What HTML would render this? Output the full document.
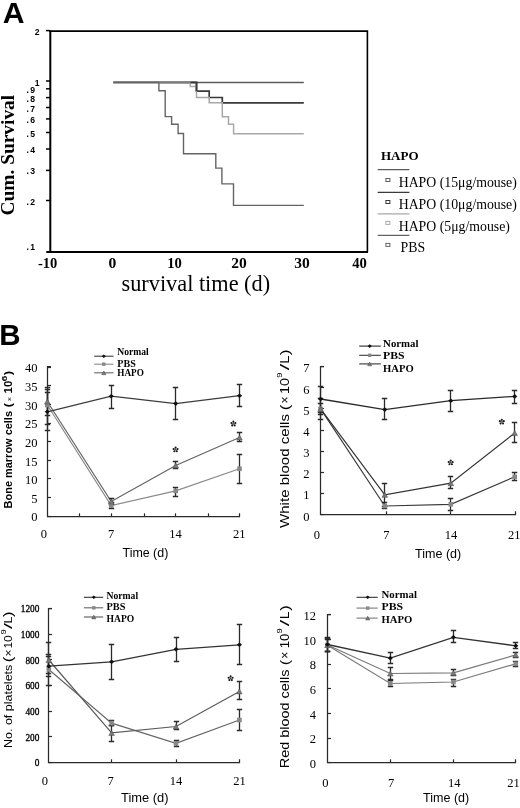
<!DOCTYPE html>
<html><head><meta charset="utf-8"><style>
html,body{margin:0;padding:0;background:#fff;}
svg{display:block;will-change:transform;}
</style></head><body>
<svg width="520" height="808" viewBox="0 0 520 808">
<rect width="520" height="808" fill="#fff"/>
<text x="2.8" y="23.2" font-family='"Liberation Sans", sans-serif' font-weight="bold" font-size="30.2">A</text>
<path d="M50.3 30.4 V251.9" stroke="#000" stroke-width="2" fill="none"/>
<path d="M49 31.1 H367.4 V251.9" stroke="#000" stroke-width="1.6" fill="none"/>
<path d="M47 251.9 H368" stroke="#000" stroke-width="2" fill="none"/>
<path d="M46 30.6 H50" stroke="#000" stroke-width="1.5"/>
<text x="39.6" y="35.1" text-anchor="end" font-family='"Liberation Sans", sans-serif' font-weight="bold" font-size="8.6">2</text>
<path d="M46 81.0 H50" stroke="#000" stroke-width="1.5"/>
<text x="39.6" y="85.5" text-anchor="end" font-family='"Liberation Sans", sans-serif' font-weight="bold" font-size="8.6">1</text>
<path d="M46 88.8 H50" stroke="#000" stroke-width="1.5"/>
<text x="36.4" y="92.8" text-anchor="end" font-family='"Liberation Sans", sans-serif' font-weight="bold" font-size="8.6" letter-spacing="1.3">.9</text>
<path d="M46 97.6 H50" stroke="#000" stroke-width="1.5"/>
<text x="36.4" y="101.6" text-anchor="end" font-family='"Liberation Sans", sans-serif' font-weight="bold" font-size="8.6" letter-spacing="1.3">.8</text>
<path d="M46 107.5 H50" stroke="#000" stroke-width="1.5"/>
<text x="36.4" y="111.5" text-anchor="end" font-family='"Liberation Sans", sans-serif' font-weight="bold" font-size="8.6" letter-spacing="1.3">.7</text>
<path d="M46 118.9 H50" stroke="#000" stroke-width="1.5"/>
<text x="36.4" y="122.9" text-anchor="end" font-family='"Liberation Sans", sans-serif' font-weight="bold" font-size="8.6" letter-spacing="1.3">.6</text>
<path d="M46 132.5 H50" stroke="#000" stroke-width="1.5"/>
<text x="36.4" y="136.5" text-anchor="end" font-family='"Liberation Sans", sans-serif' font-weight="bold" font-size="8.6" letter-spacing="1.3">.5</text>
<path d="M46 149.0 H50" stroke="#000" stroke-width="1.5"/>
<text x="36.4" y="153.0" text-anchor="end" font-family='"Liberation Sans", sans-serif' font-weight="bold" font-size="8.6" letter-spacing="1.3">.4</text>
<path d="M46 170.4 H50" stroke="#000" stroke-width="1.5"/>
<text x="36.4" y="174.4" text-anchor="end" font-family='"Liberation Sans", sans-serif' font-weight="bold" font-size="8.6" letter-spacing="1.3">.3</text>
<path d="M46 200.5 H50" stroke="#000" stroke-width="1.5"/>
<text x="36.4" y="204.5" text-anchor="end" font-family='"Liberation Sans", sans-serif' font-weight="bold" font-size="8.6" letter-spacing="1.3">.2</text>
<path d="M46 252.0 H50" stroke="#000" stroke-width="1.5"/>
<text x="36.4" y="250.0" text-anchor="end" font-family='"Liberation Sans", sans-serif' font-weight="bold" font-size="8.6" letter-spacing="1.3">.1</text>
<text x="38.0" y="268.1" font-family='"Liberation Serif", serif' font-weight="bold" font-size="14" textLength="19.4" lengthAdjust="spacingAndGlyphs">-10</text>
<text x="108.5" y="268.1" font-family='"Liberation Serif", serif' font-weight="bold" font-size="14" textLength="7.8" lengthAdjust="spacingAndGlyphs">0</text>
<text x="167.3" y="268.1" font-family='"Liberation Serif", serif' font-weight="bold" font-size="14" textLength="14.6" lengthAdjust="spacingAndGlyphs">10</text>
<text x="231.3" y="268.1" font-family='"Liberation Serif", serif' font-weight="bold" font-size="14" textLength="15.5" lengthAdjust="spacingAndGlyphs">20</text>
<text x="294.2" y="268.1" font-family='"Liberation Serif", serif' font-weight="bold" font-size="14" textLength="15.5" lengthAdjust="spacingAndGlyphs">30</text>
<text x="352.2" y="268.1" font-family='"Liberation Serif", serif' font-weight="bold" font-size="14" textLength="14.6" lengthAdjust="spacingAndGlyphs">40</text>
<text x="121.5" y="291.3" font-family='"Liberation Serif", serif' font-size="22.3">survival time (d)</text>
<text transform="translate(14.2,215.5) rotate(-90)" font-family='"Liberation Serif", serif' font-weight="bold" font-size="19.4">Cum. Survival</text>
<path d="M113.4 82.5 L303.8 82.5" stroke="#5c5c5c" stroke-width="1.4" fill="none"/>
<path d="M113.4 82.4 L196.5 82.4 L196.5 91.2 L209.2 91.2 L209.2 97.5 L222.3 97.5 L222.3 102.8 L303.8 102.8" stroke="#3a3a3a" stroke-width="1.7" fill="none"/>
<path d="M113.4 82.4 L190.3 82.4 L190.3 86.5 L196.5 86.5 L196.5 97.5 L209.2 97.5 L209.2 102.7 L222.3 102.7 L222.3 116.8 L228.5 116.8 L228.5 124.2 L233.6 124.2 L233.6 133.7 L303.8 133.7" stroke="#a8a8a8" stroke-width="1.5" fill="none"/>
<path d="M159.6 82.5 H189.8" stroke="#7c7c7c" stroke-width="1.5" fill="none"/>
<path d="M190.3 82.5 H196.5 V91.2" stroke="#3a3a3a" stroke-width="1.7" fill="none"/>
<path d="M113.4 82.4 L158.9 82.4 L158.9 90.7 L165.2 90.7 L165.2 116.6 L171.6 116.6 L171.6 124.2 L178.1 124.2 L178.1 133.5 L183.5 133.5 L183.5 153.8 L215.8 153.8 L215.8 168.1 L221.9 168.1 L221.9 183.9 L233.5 183.9 L233.5 205.4 L303.8 205.4" stroke="#646464" stroke-width="1.4" fill="none"/>
<text x="381" y="160.0" font-family='"Liberation Serif", serif' font-weight="bold" font-size="13">HAPO</text>
<path d="M377.7 169.6 H409.4" stroke="#5c5c5c" stroke-width="1.3"/>
<rect x="385.9" y="178.5" width="4" height="3" stroke="#5c5c5c" stroke-width="1" fill="#fff"/>
<text x="398.7" y="187.2" font-family='"Liberation Serif", serif' font-size="13.8">HAPO (15μg/mouse)</text>
<path d="M377.7 192.4 H409.4" stroke="#3a3a3a" stroke-width="1.3"/>
<rect x="385.9" y="200.5" width="4" height="3" stroke="#3a3a3a" stroke-width="1" fill="#fff"/>
<text x="398.7" y="208.8" font-family='"Liberation Serif", serif' font-size="13.8">HAPO (10μg/mouse)</text>
<path d="M377.7 213.9 H409.4" stroke="#a8a8a8" stroke-width="1.3"/>
<rect x="385.9" y="221.4" width="4" height="3" stroke="#a8a8a8" stroke-width="1" fill="#fff"/>
<text x="398.7" y="230.8" font-family='"Liberation Serif", serif' font-size="13.8">HAPO (5μg/mouse)</text>
<path d="M377.7 235.3 H409.4" stroke="#646464" stroke-width="1.3"/>
<rect x="385.9" y="243.4" width="4" height="3" stroke="#646464" stroke-width="1" fill="#fff"/>
<text x="400.6" y="251.9" font-family='"Liberation Serif", serif' font-size="13.8">PBS</text>
<text x="-0.8" y="345.4" font-family='"Liberation Sans", sans-serif' font-weight="bold" font-size="29.5">B</text>
<path d="M51.0 366.5 H47.5 V516.5 H239.5 V513.3" stroke="#2a2a2a" stroke-width="1.25" fill="none"/>
<path d="M47.5 516.50 H51.0" stroke="#2a2a2a" stroke-width="1.2"/>
<path d="M47.5 497.50 H51.0" stroke="#2a2a2a" stroke-width="1.2"/>
<path d="M47.5 478.50 H51.0" stroke="#2a2a2a" stroke-width="1.2"/>
<path d="M47.5 460.50 H51.0" stroke="#2a2a2a" stroke-width="1.2"/>
<path d="M47.5 441.50 H51.0" stroke="#2a2a2a" stroke-width="1.2"/>
<path d="M47.5 423.50 H51.0" stroke="#2a2a2a" stroke-width="1.2"/>
<path d="M47.5 404.50 H51.0" stroke="#2a2a2a" stroke-width="1.2"/>
<path d="M47.5 385.50 H51.0" stroke="#2a2a2a" stroke-width="1.2"/>
<path d="M47.5 367.50 H51.0" stroke="#2a2a2a" stroke-width="1.2"/>
<path d="M79.50 516.5 V513.3" stroke="#2a2a2a" stroke-width="1.2"/>
<path d="M111.50 516.5 V513.3" stroke="#2a2a2a" stroke-width="1.2"/>
<path d="M144.50 516.5 V513.3" stroke="#2a2a2a" stroke-width="1.2"/>
<path d="M175.50 516.5 V513.3" stroke="#2a2a2a" stroke-width="1.2"/>
<path d="M208.50 516.5 V513.3" stroke="#2a2a2a" stroke-width="1.2"/>
<text x="37.4" y="521.43" text-anchor="end" font-family='"Liberation Serif", serif' font-size="12.5">0</text>
<text x="37.4" y="502.79" text-anchor="end" font-family='"Liberation Serif", serif' font-size="12.5">5</text>
<text x="37.4" y="484.15" text-anchor="end" font-family='"Liberation Serif", serif' font-size="12.5">10</text>
<text x="37.4" y="465.51" text-anchor="end" font-family='"Liberation Serif", serif' font-size="12.5">15</text>
<text x="37.4" y="446.88" text-anchor="end" font-family='"Liberation Serif", serif' font-size="12.5">20</text>
<text x="37.4" y="428.24" text-anchor="end" font-family='"Liberation Serif", serif' font-size="12.5">25</text>
<text x="37.4" y="409.60" text-anchor="end" font-family='"Liberation Serif", serif' font-size="12.5">30</text>
<text x="37.4" y="390.96" text-anchor="end" font-family='"Liberation Serif", serif' font-size="12.5">35</text>
<text x="37.4" y="372.33" text-anchor="end" font-family='"Liberation Serif", serif' font-size="12.5">40</text>
<text x="43.8" y="537.93" text-anchor="middle" font-family='"Liberation Serif", serif' font-size="12.5">0</text>
<text x="111.0" y="537.93" text-anchor="middle" font-family='"Liberation Serif", serif' font-size="12.5">7</text>
<text x="175.4" y="537.93" text-anchor="middle" font-family='"Liberation Serif", serif' font-size="12.5">14</text>
<text x="239.2" y="537.93" text-anchor="middle" font-family='"Liberation Serif", serif' font-size="12.5">21</text>
<text x="122.5" y="557.4" font-family='"Liberation Sans", sans-serif' font-size="13.5" textLength="45.8" lengthAdjust="spacingAndGlyphs">Time (d)</text>
<path d="M47.30 405.00 L111.20 505.60 L175.70 490.90 L239.50 468.70" stroke="#8a8a8a" stroke-width="1.2" fill="none"/>
<path d="M47.30 401.50 L111.20 501.50 L175.70 465.50 L239.50 437.50" stroke="#646464" stroke-width="1.2" fill="none"/>
<path d="M47.30 411.80 L111.20 396.20 L175.70 403.60 L239.50 395.70" stroke="#3c3c3c" stroke-width="1.3" fill="none"/>
<path d="M47.50 389.50 V424.50 M44.80 389.50 H50.20 M44.80 424.50 H50.20" stroke="#2a2a2a" stroke-width="1.3" fill="none"/>
<path d="M111.50 502.50 V508.50 M108.80 502.50 H114.20 M108.80 508.50 H114.20" stroke="#2a2a2a" stroke-width="1.3" fill="none"/>
<path d="M175.50 487.50 V496.50 M172.80 487.50 H178.20 M172.80 496.50 H178.20" stroke="#2a2a2a" stroke-width="1.3" fill="none"/>
<path d="M239.50 454.50 V483.50 M236.80 454.50 H242.20 M236.80 483.50 H242.20" stroke="#2a2a2a" stroke-width="1.3" fill="none"/>
<path d="M47.50 387.50 V415.50 M44.80 387.50 H50.20 M44.80 415.50 H50.20" stroke="#2a2a2a" stroke-width="1.3" fill="none"/>
<path d="M111.50 498.50 V504.50 M108.80 498.50 H114.20 M108.80 504.50 H114.20" stroke="#2a2a2a" stroke-width="1.3" fill="none"/>
<path d="M175.50 461.50 V468.50 M172.80 461.50 H178.20 M172.80 468.50 H178.20" stroke="#2a2a2a" stroke-width="1.3" fill="none"/>
<path d="M239.50 432.50 V441.50 M236.80 432.50 H242.20 M236.80 441.50 H242.20" stroke="#2a2a2a" stroke-width="1.3" fill="none"/>
<path d="M47.50 392.50 V430.50 M44.80 392.50 H50.20 M44.80 430.50 H50.20" stroke="#2a2a2a" stroke-width="1.3" fill="none"/>
<path d="M111.50 385.50 V408.50 M108.80 385.50 H114.20 M108.80 408.50 H114.20" stroke="#2a2a2a" stroke-width="1.3" fill="none"/>
<path d="M175.50 387.50 V419.50 M172.80 387.50 H178.20 M172.80 419.50 H178.20" stroke="#2a2a2a" stroke-width="1.3" fill="none"/>
<path d="M239.50 384.50 V406.50 M236.80 384.50 H242.20 M236.80 406.50 H242.20" stroke="#2a2a2a" stroke-width="1.3" fill="none"/>
<rect x="45.00" y="402.70" width="4.6" height="4.6" fill="#888"/>
<rect x="108.90" y="503.30" width="4.6" height="4.6" fill="#888"/>
<rect x="173.40" y="488.60" width="4.6" height="4.6" fill="#888"/>
<rect x="237.20" y="466.40" width="4.6" height="4.6" fill="#888"/>
<path d="M47.30 398.98 L50.10 404.02 L44.50 404.02 Z" fill="#7a7a7a" stroke="#4a4a4a" stroke-width="0.5"/>
<path d="M111.20 498.98 L114.00 504.02 L108.40 504.02 Z" fill="#7a7a7a" stroke="#4a4a4a" stroke-width="0.5"/>
<path d="M175.70 462.98 L178.50 468.02 L172.90 468.02 Z" fill="#7a7a7a" stroke="#4a4a4a" stroke-width="0.5"/>
<path d="M239.50 434.98 L242.30 440.02 L236.70 440.02 Z" fill="#7a7a7a" stroke="#4a4a4a" stroke-width="0.5"/>
<path d="M44.70 411.80 L47.30 409.50 L49.90 411.80 L47.30 414.10 Z" fill="#111"/>
<path d="M108.60 396.20 L111.20 393.90 L113.80 396.20 L111.20 398.50 Z" fill="#111"/>
<path d="M173.10 403.60 L175.70 401.30 L178.30 403.60 L175.70 405.90 Z" fill="#111"/>
<path d="M236.90 395.70 L239.50 393.40 L242.10 395.70 L239.50 398.00 Z" fill="#111"/>
<circle cx="175.60" cy="447.50" r="1.05" fill="#1a1a1a"/><path d="M175.60 449.60 L175.60 447.50" stroke="#1a1a1a" stroke-width="0.9" opacity="0.6"/><circle cx="177.60" cy="448.95" r="1.05" fill="#1a1a1a"/><path d="M175.60 449.60 L177.60 448.95" stroke="#1a1a1a" stroke-width="0.9" opacity="0.6"/><circle cx="176.83" cy="451.30" r="1.05" fill="#1a1a1a"/><path d="M175.60 449.60 L176.83 451.30" stroke="#1a1a1a" stroke-width="0.9" opacity="0.6"/><circle cx="174.37" cy="451.30" r="1.05" fill="#1a1a1a"/><path d="M175.60 449.60 L174.37 451.30" stroke="#1a1a1a" stroke-width="0.9" opacity="0.6"/><circle cx="173.60" cy="448.95" r="1.05" fill="#1a1a1a"/><path d="M175.60 449.60 L173.60 448.95" stroke="#1a1a1a" stroke-width="0.9" opacity="0.6"/>
<circle cx="233.40" cy="421.60" r="1.05" fill="#1a1a1a"/><path d="M233.40 423.70 L233.40 421.60" stroke="#1a1a1a" stroke-width="0.9" opacity="0.6"/><circle cx="235.40" cy="423.05" r="1.05" fill="#1a1a1a"/><path d="M233.40 423.70 L235.40 423.05" stroke="#1a1a1a" stroke-width="0.9" opacity="0.6"/><circle cx="234.63" cy="425.40" r="1.05" fill="#1a1a1a"/><path d="M233.40 423.70 L234.63 425.40" stroke="#1a1a1a" stroke-width="0.9" opacity="0.6"/><circle cx="232.17" cy="425.40" r="1.05" fill="#1a1a1a"/><path d="M233.40 423.70 L232.17 425.40" stroke="#1a1a1a" stroke-width="0.9" opacity="0.6"/><circle cx="231.40" cy="423.05" r="1.05" fill="#1a1a1a"/><path d="M233.40 423.70 L231.40 423.05" stroke="#1a1a1a" stroke-width="0.9" opacity="0.6"/>
<path d="M94.2 356.2 H113.5" stroke="#3c3c3c" stroke-width="1.1"/>
<path d="M101.70 356.20 L103.80 354.40 L105.90 356.20 L103.80 358.00 Z" fill="#111"/>
<text x="117.3" y="355.4" font-family='"Liberation Serif", serif' font-weight="bold" font-size="10" textLength="31.5" lengthAdjust="spacingAndGlyphs">Normal</text>
<path d="M94.2 364.2 H113.5" stroke="#8a8a8a" stroke-width="1.1"/>
<rect x="102.10" y="362.50" width="3.4" height="3.4" fill="#888"/>
<text x="117.3" y="366.9" font-family='"Liberation Serif", serif' font-weight="bold" font-size="10" textLength="18.5" lengthAdjust="spacingAndGlyphs">PBS</text>
<path d="M94.2 372.8 H113.5" stroke="#646464" stroke-width="1.1"/>
<path d="M103.80 370.91 L105.90 374.69 L101.70 374.69 Z" fill="#7a7a7a" stroke="#4a4a4a" stroke-width="0.5"/>
<text x="117.3" y="376.2" font-family='"Liberation Serif", serif' font-weight="bold" font-size="10" textLength="26.6" lengthAdjust="spacingAndGlyphs">HAPO</text>
<g transform="translate(11.9,507.8) rotate(-90)" font-family='"Liberation Sans", sans-serif' font-weight="bold"><text x="-0.6" y="0" font-size="10.8" textLength="97.4" lengthAdjust="spacingAndGlyphs">Bone marrow cells</text><text x="100.2" y="0" font-size="10.8" textLength="4.6" lengthAdjust="spacingAndGlyphs">(</text><text x="106.6" y="0" font-size="7.5" font-weight="normal">×</text><text x="114.4" y="0" font-size="10.8" textLength="12.6" lengthAdjust="spacingAndGlyphs">10</text><text x="126.6" y="-5.4" font-size="7.3" textLength="5.6" lengthAdjust="spacingAndGlyphs">6</text><text x="132.6" y="0" font-size="10.8" textLength="4.4" lengthAdjust="spacingAndGlyphs">)</text></g>
<path d="M324.0 366.5 H320.5 V514.5 H515.5 V511.3" stroke="#2a2a2a" stroke-width="1.25" fill="none"/>
<path d="M320.5 514.50 H324.0" stroke="#2a2a2a" stroke-width="1.2"/>
<path d="M320.5 493.50 H324.0" stroke="#2a2a2a" stroke-width="1.2"/>
<path d="M320.5 472.50 H324.0" stroke="#2a2a2a" stroke-width="1.2"/>
<path d="M320.5 451.50 H324.0" stroke="#2a2a2a" stroke-width="1.2"/>
<path d="M320.5 430.50 H324.0" stroke="#2a2a2a" stroke-width="1.2"/>
<path d="M320.5 408.50 H324.0" stroke="#2a2a2a" stroke-width="1.2"/>
<path d="M320.5 387.50 H324.0" stroke="#2a2a2a" stroke-width="1.2"/>
<path d="M320.5 366.50 H324.0" stroke="#2a2a2a" stroke-width="1.2"/>
<path d="M386.50 514.5 V511.3" stroke="#2a2a2a" stroke-width="1.2"/>
<path d="M450.50 514.5 V511.3" stroke="#2a2a2a" stroke-width="1.2"/>
<text x="309.6" y="520.53" text-anchor="end" font-family='"Liberation Serif", serif' font-size="12.5">0</text>
<text x="309.6" y="499.36" text-anchor="end" font-family='"Liberation Serif", serif' font-size="12.5">1</text>
<text x="309.6" y="478.19" text-anchor="end" font-family='"Liberation Serif", serif' font-size="12.5">2</text>
<text x="309.6" y="457.02" text-anchor="end" font-family='"Liberation Serif", serif' font-size="12.5">3</text>
<text x="309.6" y="435.85" text-anchor="end" font-family='"Liberation Serif", serif' font-size="12.5">4</text>
<text x="309.6" y="414.68" text-anchor="end" font-family='"Liberation Serif", serif' font-size="12.5">5</text>
<text x="309.6" y="393.51" text-anchor="end" font-family='"Liberation Serif", serif' font-size="12.5">6</text>
<text x="309.6" y="372.34" text-anchor="end" font-family='"Liberation Serif", serif' font-size="12.5">7</text>
<text x="316.9" y="539.23" text-anchor="middle" font-family='"Liberation Serif", serif' font-size="12.5">0</text>
<text x="386.3" y="539.23" text-anchor="middle" font-family='"Liberation Serif", serif' font-size="12.5">7</text>
<text x="451.1" y="539.23" text-anchor="middle" font-family='"Liberation Serif", serif' font-size="12.5">14</text>
<text x="514.2" y="539.23" text-anchor="middle" font-family='"Liberation Serif", serif' font-size="12.5">21</text>
<text x="415.0" y="557.8" font-family='"Liberation Sans", sans-serif' font-size="13.5" textLength="46.2" lengthAdjust="spacingAndGlyphs">Time (d)</text>
<path d="M320.60 408.90 L384.80 506.00 L450.80 504.30 L514.70 476.80" stroke="#3a3a3a" stroke-width="1.2" fill="none"/>
<path d="M320.60 408.90 L384.80 494.80 L450.80 483.20 L514.70 433.00" stroke="#333333" stroke-width="1.2" fill="none"/>
<path d="M320.60 399.00 L384.80 409.60 L450.80 400.70 L514.70 396.40" stroke="#2a2a2a" stroke-width="1.3" fill="none"/>
<path d="M320.50 403.50 V414.50 M317.80 403.50 H323.20 M317.80 414.50 H323.20" stroke="#2a2a2a" stroke-width="1.3" fill="none"/>
<path d="M384.50 502.50 V508.50 M381.80 502.50 H387.20 M381.80 508.50 H387.20" stroke="#2a2a2a" stroke-width="1.3" fill="none"/>
<path d="M450.50 498.50 V510.50 M447.80 498.50 H453.20 M447.80 510.50 H453.20" stroke="#2a2a2a" stroke-width="1.3" fill="none"/>
<path d="M514.50 472.50 V480.50 M511.80 472.50 H517.20 M511.80 480.50 H517.20" stroke="#2a2a2a" stroke-width="1.3" fill="none"/>
<path d="M320.50 398.50 V419.50 M317.80 398.50 H323.20 M317.80 419.50 H323.20" stroke="#2a2a2a" stroke-width="1.3" fill="none"/>
<path d="M384.50 483.50 V506.50 M381.80 483.50 H387.20 M381.80 506.50 H387.20" stroke="#2a2a2a" stroke-width="1.3" fill="none"/>
<path d="M450.50 476.50 V488.50 M447.80 476.50 H453.20 M447.80 488.50 H453.20" stroke="#2a2a2a" stroke-width="1.3" fill="none"/>
<path d="M514.50 422.50 V442.50 M511.80 422.50 H517.20 M511.80 442.50 H517.20" stroke="#2a2a2a" stroke-width="1.3" fill="none"/>
<path d="M320.50 386.50 V412.50 M317.80 386.50 H323.20 M317.80 412.50 H323.20" stroke="#2a2a2a" stroke-width="1.3" fill="none"/>
<path d="M384.50 398.50 V419.50 M381.80 398.50 H387.20 M381.80 419.50 H387.20" stroke="#2a2a2a" stroke-width="1.3" fill="none"/>
<path d="M450.50 390.50 V411.50 M447.80 390.50 H453.20 M447.80 411.50 H453.20" stroke="#2a2a2a" stroke-width="1.3" fill="none"/>
<path d="M514.50 390.50 V403.50 M511.80 390.50 H517.20 M511.80 403.50 H517.20" stroke="#2a2a2a" stroke-width="1.3" fill="none"/>
<rect x="318.30" y="406.60" width="4.6" height="4.6" fill="#888"/>
<rect x="382.50" y="503.70" width="4.6" height="4.6" fill="#888"/>
<rect x="448.50" y="502.00" width="4.6" height="4.6" fill="#888"/>
<rect x="512.40" y="474.50" width="4.6" height="4.6" fill="#888"/>
<path d="M320.60 406.38 L323.40 411.42 L317.80 411.42 Z" fill="#7a7a7a" stroke="#4a4a4a" stroke-width="0.5"/>
<path d="M384.80 492.28 L387.60 497.32 L382.00 497.32 Z" fill="#7a7a7a" stroke="#4a4a4a" stroke-width="0.5"/>
<path d="M450.80 480.68 L453.60 485.72 L448.00 485.72 Z" fill="#7a7a7a" stroke="#4a4a4a" stroke-width="0.5"/>
<path d="M514.70 430.48 L517.50 435.52 L511.90 435.52 Z" fill="#7a7a7a" stroke="#4a4a4a" stroke-width="0.5"/>
<path d="M318.00 399.00 L320.60 396.70 L323.20 399.00 L320.60 401.30 Z" fill="#111"/>
<path d="M382.20 409.60 L384.80 407.30 L387.40 409.60 L384.80 411.90 Z" fill="#111"/>
<path d="M448.20 400.70 L450.80 398.40 L453.40 400.70 L450.80 403.00 Z" fill="#111"/>
<path d="M512.10 396.40 L514.70 394.10 L517.30 396.40 L514.70 398.70 Z" fill="#111"/>
<circle cx="450.70" cy="460.50" r="1.05" fill="#1a1a1a"/><path d="M450.70 462.60 L450.70 460.50" stroke="#1a1a1a" stroke-width="0.9" opacity="0.6"/><circle cx="452.70" cy="461.95" r="1.05" fill="#1a1a1a"/><path d="M450.70 462.60 L452.70 461.95" stroke="#1a1a1a" stroke-width="0.9" opacity="0.6"/><circle cx="451.93" cy="464.30" r="1.05" fill="#1a1a1a"/><path d="M450.70 462.60 L451.93 464.30" stroke="#1a1a1a" stroke-width="0.9" opacity="0.6"/><circle cx="449.47" cy="464.30" r="1.05" fill="#1a1a1a"/><path d="M450.70 462.60 L449.47 464.30" stroke="#1a1a1a" stroke-width="0.9" opacity="0.6"/><circle cx="448.70" cy="461.95" r="1.05" fill="#1a1a1a"/><path d="M450.70 462.60 L448.70 461.95" stroke="#1a1a1a" stroke-width="0.9" opacity="0.6"/>
<circle cx="501.80" cy="419.70" r="1.05" fill="#1a1a1a"/><path d="M501.80 421.80 L501.80 419.70" stroke="#1a1a1a" stroke-width="0.9" opacity="0.6"/><circle cx="503.80" cy="421.15" r="1.05" fill="#1a1a1a"/><path d="M501.80 421.80 L503.80 421.15" stroke="#1a1a1a" stroke-width="0.9" opacity="0.6"/><circle cx="503.03" cy="423.50" r="1.05" fill="#1a1a1a"/><path d="M501.80 421.80 L503.03 423.50" stroke="#1a1a1a" stroke-width="0.9" opacity="0.6"/><circle cx="500.57" cy="423.50" r="1.05" fill="#1a1a1a"/><path d="M501.80 421.80 L500.57 423.50" stroke="#1a1a1a" stroke-width="0.9" opacity="0.6"/><circle cx="499.80" cy="421.15" r="1.05" fill="#1a1a1a"/><path d="M501.80 421.80 L499.80 421.15" stroke="#1a1a1a" stroke-width="0.9" opacity="0.6"/>
<path d="M359.2 346.1 H380.8" stroke="#2a2a2a" stroke-width="1.1"/>
<path d="M367.60 346.10 L369.70 344.30 L371.80 346.10 L369.70 347.90 Z" fill="#111"/>
<text x="383.1" y="346.5" font-family='"Liberation Serif", serif' font-weight="bold" font-size="11" textLength="35.4" lengthAdjust="spacingAndGlyphs">Normal</text>
<path d="M359.2 355.3 H380.8" stroke="#3a3a3a" stroke-width="1.1"/>
<rect x="368.00" y="353.60" width="3.4" height="3.4" fill="#888"/>
<text x="383.1" y="359.2" font-family='"Liberation Serif", serif' font-weight="bold" font-size="11" textLength="21.5" lengthAdjust="spacingAndGlyphs">PBS</text>
<path d="M359.2 363.9 H380.8" stroke="#333333" stroke-width="1.1"/>
<path d="M369.70 362.01 L371.80 365.79 L367.60 365.79 Z" fill="#7a7a7a" stroke="#4a4a4a" stroke-width="0.5"/>
<text x="383.1" y="372.4" font-family='"Liberation Serif", serif' font-weight="bold" font-size="11" textLength="30.7" lengthAdjust="spacingAndGlyphs">HAPO</text>
<g transform="translate(288.7,527.2) rotate(-90)" font-family='"Liberation Sans", sans-serif' font-weight="normal"><text x="-0.8" y="0" font-size="12.5" textLength="114.0" lengthAdjust="spacingAndGlyphs">White blood cells</text><text x="117.0" y="0" font-size="13.5" textLength="5.6" lengthAdjust="spacingAndGlyphs">(</text><text x="123.6" y="0" font-size="12.5" textLength="7.0" lengthAdjust="spacingAndGlyphs">×</text><text x="133.3" y="0" font-size="12.5" textLength="16.0" lengthAdjust="spacingAndGlyphs">10</text><text x="149.5" y="-6.5" font-size="8" textLength="5.2" lengthAdjust="spacingAndGlyphs">9</text><text x="157.0" y="0" font-size="12.5" textLength="6.6" lengthAdjust="spacingAndGlyphs">/</text><text x="163.4" y="0" font-size="12.5" textLength="8.2" lengthAdjust="spacingAndGlyphs">L</text><text x="171.9" y="0" font-size="13.5" textLength="5.8" lengthAdjust="spacingAndGlyphs">)</text></g>
<path d="M52.0 608.5 H48.5 V762.5 H239.5 V759.3" stroke="#2a2a2a" stroke-width="1.25" fill="none"/>
<path d="M48.5 762.50 H52.0" stroke="#2a2a2a" stroke-width="1.2"/>
<path d="M48.5 736.50 H52.0" stroke="#2a2a2a" stroke-width="1.2"/>
<path d="M48.5 711.50 H52.0" stroke="#2a2a2a" stroke-width="1.2"/>
<path d="M48.5 685.50 H52.0" stroke="#2a2a2a" stroke-width="1.2"/>
<path d="M48.5 659.50 H52.0" stroke="#2a2a2a" stroke-width="1.2"/>
<path d="M48.5 634.50 H52.0" stroke="#2a2a2a" stroke-width="1.2"/>
<path d="M48.5 608.50 H52.0" stroke="#2a2a2a" stroke-width="1.2"/>
<path d="M111.50 762.5 V759.3" stroke="#2a2a2a" stroke-width="1.2"/>
<path d="M176.50 762.5 V759.3" stroke="#2a2a2a" stroke-width="1.2"/>
<text x="39.4" y="766.24" text-anchor="end" font-family='"Liberation Serif", serif' font-size="9.3" stroke="#000" stroke-width="0.3">0</text>
<text x="39.4" y="740.59" text-anchor="end" font-family='"Liberation Serif", serif' font-size="9.3" stroke="#000" stroke-width="0.3">200</text>
<text x="39.4" y="714.94" text-anchor="end" font-family='"Liberation Serif", serif' font-size="9.3" stroke="#000" stroke-width="0.3">400</text>
<text x="39.4" y="689.29" text-anchor="end" font-family='"Liberation Serif", serif' font-size="9.3" stroke="#000" stroke-width="0.3">600</text>
<text x="39.4" y="663.64" text-anchor="end" font-family='"Liberation Serif", serif' font-size="9.3" stroke="#000" stroke-width="0.3">800</text>
<text x="39.4" y="637.99" text-anchor="end" font-family='"Liberation Serif", serif' font-size="9.3" stroke="#000" stroke-width="0.3">1000</text>
<text x="39.4" y="612.34" text-anchor="end" font-family='"Liberation Serif", serif' font-size="9.3" stroke="#000" stroke-width="0.3">1200</text>
<text x="44.8" y="784.73" text-anchor="middle" font-family='"Liberation Serif", serif' font-size="12.5">0</text>
<text x="110.6" y="784.73" text-anchor="middle" font-family='"Liberation Serif", serif' font-size="12.5">7</text>
<text x="176.0" y="784.73" text-anchor="middle" font-family='"Liberation Serif", serif' font-size="12.5">14</text>
<text x="239.4" y="784.73" text-anchor="middle" font-family='"Liberation Serif", serif' font-size="12.5">21</text>
<text x="121.0" y="802.0" font-family='"Liberation Sans", sans-serif' font-size="13.5" textLength="47.5" lengthAdjust="spacingAndGlyphs">Time (d)</text>
<path d="M48.80 669.50 L111.60 723.10 L176.00 743.40 L239.40 720.00" stroke="#666666" stroke-width="1.2" fill="none"/>
<path d="M48.80 660.00 L111.60 732.90 L176.00 726.50 L239.40 691.40" stroke="#5a5a5a" stroke-width="1.2" fill="none"/>
<path d="M48.80 666.20 L111.60 661.80 L176.00 649.30 L239.40 644.80" stroke="#333333" stroke-width="1.3" fill="none"/>
<path d="M48.50 654.50 V676.50 M45.80 654.50 H51.20 M45.80 676.50 H51.20" stroke="#2a2a2a" stroke-width="1.3" fill="none"/>
<path d="M111.50 720.50 V725.50 M108.80 720.50 H114.20 M108.80 725.50 H114.20" stroke="#2a2a2a" stroke-width="1.3" fill="none"/>
<path d="M176.50 740.50 V746.50 M173.80 740.50 H179.20 M173.80 746.50 H179.20" stroke="#2a2a2a" stroke-width="1.3" fill="none"/>
<path d="M239.50 709.50 V730.50 M236.80 709.50 H242.20 M236.80 730.50 H242.20" stroke="#2a2a2a" stroke-width="1.3" fill="none"/>
<path d="M48.50 656.50 V673.50 M45.80 656.50 H51.20 M45.80 673.50 H51.20" stroke="#2a2a2a" stroke-width="1.3" fill="none"/>
<path d="M111.50 725.50 V741.50 M108.80 725.50 H114.20 M108.80 741.50 H114.20" stroke="#2a2a2a" stroke-width="1.3" fill="none"/>
<path d="M176.50 721.50 V729.50 M173.80 721.50 H179.20 M173.80 729.50 H179.20" stroke="#2a2a2a" stroke-width="1.3" fill="none"/>
<path d="M239.50 681.50 V699.50 M236.80 681.50 H242.20 M236.80 699.50 H242.20" stroke="#2a2a2a" stroke-width="1.3" fill="none"/>
<path d="M48.50 642.50 V685.50 M45.80 642.50 H51.20 M45.80 685.50 H51.20" stroke="#2a2a2a" stroke-width="1.3" fill="none"/>
<path d="M111.50 644.50 V679.50 M108.80 644.50 H114.20 M108.80 679.50 H114.20" stroke="#2a2a2a" stroke-width="1.3" fill="none"/>
<path d="M176.50 637.50 V661.50 M173.80 637.50 H179.20 M173.80 661.50 H179.20" stroke="#2a2a2a" stroke-width="1.3" fill="none"/>
<path d="M239.50 624.50 V664.50 M236.80 624.50 H242.20 M236.80 664.50 H242.20" stroke="#2a2a2a" stroke-width="1.3" fill="none"/>
<rect x="46.50" y="667.20" width="4.6" height="4.6" fill="#888"/>
<rect x="109.30" y="720.80" width="4.6" height="4.6" fill="#888"/>
<rect x="173.70" y="741.10" width="4.6" height="4.6" fill="#888"/>
<rect x="237.10" y="717.70" width="4.6" height="4.6" fill="#888"/>
<path d="M48.80 657.48 L51.60 662.52 L46.00 662.52 Z" fill="#7a7a7a" stroke="#4a4a4a" stroke-width="0.5"/>
<path d="M111.60 730.38 L114.40 735.42 L108.80 735.42 Z" fill="#7a7a7a" stroke="#4a4a4a" stroke-width="0.5"/>
<path d="M176.00 723.98 L178.80 729.02 L173.20 729.02 Z" fill="#7a7a7a" stroke="#4a4a4a" stroke-width="0.5"/>
<path d="M239.40 688.88 L242.20 693.92 L236.60 693.92 Z" fill="#7a7a7a" stroke="#4a4a4a" stroke-width="0.5"/>
<path d="M46.20 666.20 L48.80 663.90 L51.40 666.20 L48.80 668.50 Z" fill="#111"/>
<path d="M109.00 661.80 L111.60 659.50 L114.20 661.80 L111.60 664.10 Z" fill="#111"/>
<path d="M173.40 649.30 L176.00 647.00 L178.60 649.30 L176.00 651.60 Z" fill="#111"/>
<path d="M236.80 644.80 L239.40 642.50 L242.00 644.80 L239.40 647.10 Z" fill="#111"/>
<circle cx="230.60" cy="676.30" r="1.05" fill="#1a1a1a"/><path d="M230.60 678.40 L230.60 676.30" stroke="#1a1a1a" stroke-width="0.9" opacity="0.6"/><circle cx="232.60" cy="677.75" r="1.05" fill="#1a1a1a"/><path d="M230.60 678.40 L232.60 677.75" stroke="#1a1a1a" stroke-width="0.9" opacity="0.6"/><circle cx="231.83" cy="680.10" r="1.05" fill="#1a1a1a"/><path d="M230.60 678.40 L231.83 680.10" stroke="#1a1a1a" stroke-width="0.9" opacity="0.6"/><circle cx="229.37" cy="680.10" r="1.05" fill="#1a1a1a"/><path d="M230.60 678.40 L229.37 680.10" stroke="#1a1a1a" stroke-width="0.9" opacity="0.6"/><circle cx="228.60" cy="677.75" r="1.05" fill="#1a1a1a"/><path d="M230.60 678.40 L228.60 677.75" stroke="#1a1a1a" stroke-width="0.9" opacity="0.6"/>
<path d="M83.9 597.3 H103.2" stroke="#333333" stroke-width="1.1"/>
<path d="M91.70 597.30 L93.80 595.50 L95.90 597.30 L93.80 599.10 Z" fill="#111"/>
<text x="106.5" y="598.5" font-family='"Liberation Serif", serif' font-weight="bold" font-size="10" textLength="31.6" lengthAdjust="spacingAndGlyphs">Normal</text>
<path d="M83.9 607.8 H103.2" stroke="#666666" stroke-width="1.1"/>
<rect x="92.10" y="606.10" width="3.4" height="3.4" fill="#888"/>
<text x="106.5" y="609.9" font-family='"Liberation Serif", serif' font-weight="bold" font-size="10" textLength="19.0" lengthAdjust="spacingAndGlyphs">PBS</text>
<path d="M83.9 617.0 H103.2" stroke="#5a5a5a" stroke-width="1.1"/>
<path d="M93.80 615.11 L95.90 618.89 L91.70 618.89 Z" fill="#7a7a7a" stroke="#4a4a4a" stroke-width="0.5"/>
<text x="106.5" y="621.6" font-family='"Liberation Serif", serif' font-weight="bold" font-size="10" textLength="27.7" lengthAdjust="spacingAndGlyphs">HAPO</text>
<g transform="translate(11.8,747.2) rotate(-90)" font-family='"Liberation Sans", sans-serif' font-weight="normal"><text x="-0.8" y="0" font-size="11.3" textLength="83.3" lengthAdjust="spacingAndGlyphs">No. of platelets</text><text x="84.9" y="0" font-size="12" textLength="5.6" lengthAdjust="spacingAndGlyphs">(</text><text x="90.8" y="0" font-size="11.3" textLength="7.0" lengthAdjust="spacingAndGlyphs">×</text><text x="98.6" y="0" font-size="11.3" textLength="13.4" lengthAdjust="spacingAndGlyphs">10</text><text x="112.6" y="-6.3" font-size="7.5" textLength="5.2" lengthAdjust="spacingAndGlyphs">9</text><text x="118.3" y="0" font-size="11.3" textLength="5.9" lengthAdjust="spacingAndGlyphs">/</text><text x="123.6" y="0" font-size="11.3" textLength="7.0" lengthAdjust="spacingAndGlyphs">L</text><text x="130.2" y="0" font-size="12" textLength="5.4" lengthAdjust="spacingAndGlyphs">)</text></g>
<path d="M331.0 614.5 H327.5 V762.5 H515.5 V759.3" stroke="#2a2a2a" stroke-width="1.25" fill="none"/>
<path d="M327.5 762.50 H331.0" stroke="#2a2a2a" stroke-width="1.2"/>
<path d="M327.5 738.50 H331.0" stroke="#2a2a2a" stroke-width="1.2"/>
<path d="M327.5 713.50 H331.0" stroke="#2a2a2a" stroke-width="1.2"/>
<path d="M327.5 688.50 H331.0" stroke="#2a2a2a" stroke-width="1.2"/>
<path d="M327.5 664.50 H331.0" stroke="#2a2a2a" stroke-width="1.2"/>
<path d="M327.5 639.50 H331.0" stroke="#2a2a2a" stroke-width="1.2"/>
<path d="M327.5 614.50 H331.0" stroke="#2a2a2a" stroke-width="1.2"/>
<path d="M390.50 762.5 V759.3" stroke="#2a2a2a" stroke-width="1.2"/>
<path d="M453.50 762.5 V759.3" stroke="#2a2a2a" stroke-width="1.2"/>
<text x="316.0" y="767.92" text-anchor="end" font-family='"Liberation Serif", serif' font-size="12.5">0</text>
<text x="316.0" y="743.27" text-anchor="end" font-family='"Liberation Serif", serif' font-size="12.5">2</text>
<text x="316.0" y="718.62" text-anchor="end" font-family='"Liberation Serif", serif' font-size="12.5">4</text>
<text x="316.0" y="693.97" text-anchor="end" font-family='"Liberation Serif", serif' font-size="12.5">6</text>
<text x="316.0" y="669.32" text-anchor="end" font-family='"Liberation Serif", serif' font-size="12.5">8</text>
<text x="316.0" y="644.67" text-anchor="end" font-family='"Liberation Serif", serif' font-size="12.5">10</text>
<text x="316.0" y="620.02" text-anchor="end" font-family='"Liberation Serif", serif' font-size="12.5">12</text>
<text x="325.4" y="786.73" text-anchor="middle" font-family='"Liberation Serif", serif' font-size="12.5">0</text>
<text x="391.0" y="786.73" text-anchor="middle" font-family='"Liberation Serif", serif' font-size="12.5">7</text>
<text x="454.2" y="786.73" text-anchor="middle" font-family='"Liberation Serif", serif' font-size="12.5">14</text>
<text x="513.6" y="786.73" text-anchor="middle" font-family='"Liberation Serif", serif' font-size="12.5">21</text>
<text x="423.1" y="802.4" font-family='"Liberation Sans", sans-serif' font-size="13.5" textLength="46.1" lengthAdjust="spacingAndGlyphs">Time (d)</text>
<path d="M327.50 645.20 L390.30 683.50 L453.40 682.00 L515.80 663.80" stroke="#7a7a7a" stroke-width="1.2" fill="none"/>
<path d="M327.50 645.00 L390.30 673.50 L453.40 672.90 L515.80 654.90" stroke="#7a7a7a" stroke-width="1.2" fill="none"/>
<path d="M327.50 644.50 L390.30 658.10 L453.40 637.30 L515.80 645.80" stroke="#333333" stroke-width="1.3" fill="none"/>
<path d="M327.50 639.50 V651.50 M324.80 639.50 H330.20 M324.80 651.50 H330.20" stroke="#2a2a2a" stroke-width="1.3" fill="none"/>
<path d="M390.50 680.50 V686.50 M387.80 680.50 H393.20 M387.80 686.50 H393.20" stroke="#2a2a2a" stroke-width="1.3" fill="none"/>
<path d="M453.50 679.50 V686.50 M450.80 679.50 H456.20 M450.80 686.50 H456.20" stroke="#2a2a2a" stroke-width="1.3" fill="none"/>
<path d="M515.50 661.50 V666.50 M512.80 661.50 H518.20 M512.80 666.50 H518.20" stroke="#2a2a2a" stroke-width="1.3" fill="none"/>
<path d="M327.50 637.50 V651.50 M324.80 637.50 H330.20 M324.80 651.50 H330.20" stroke="#2a2a2a" stroke-width="1.3" fill="none"/>
<path d="M390.50 667.50 V679.50 M387.80 667.50 H393.20 M387.80 679.50 H393.20" stroke="#2a2a2a" stroke-width="1.3" fill="none"/>
<path d="M453.50 669.50 V675.50 M450.80 669.50 H456.20 M450.80 675.50 H456.20" stroke="#2a2a2a" stroke-width="1.3" fill="none"/>
<path d="M515.50 652.50 V657.50 M512.80 652.50 H518.20 M512.80 657.50 H518.20" stroke="#2a2a2a" stroke-width="1.3" fill="none"/>
<path d="M327.50 638.50 V651.50 M324.80 638.50 H330.20 M324.80 651.50 H330.20" stroke="#2a2a2a" stroke-width="1.3" fill="none"/>
<path d="M390.50 652.50 V663.50 M387.80 652.50 H393.20 M387.80 663.50 H393.20" stroke="#2a2a2a" stroke-width="1.3" fill="none"/>
<path d="M453.50 630.50 V642.50 M450.80 630.50 H456.20 M450.80 642.50 H456.20" stroke="#2a2a2a" stroke-width="1.3" fill="none"/>
<path d="M515.50 642.50 V648.50 M512.80 642.50 H518.20 M512.80 648.50 H518.20" stroke="#2a2a2a" stroke-width="1.3" fill="none"/>
<rect x="325.20" y="642.90" width="4.6" height="4.6" fill="#888"/>
<rect x="388.00" y="681.20" width="4.6" height="4.6" fill="#888"/>
<rect x="451.10" y="679.70" width="4.6" height="4.6" fill="#888"/>
<rect x="513.50" y="661.50" width="4.6" height="4.6" fill="#888"/>
<path d="M327.50 642.48 L330.30 647.52 L324.70 647.52 Z" fill="#7a7a7a" stroke="#4a4a4a" stroke-width="0.5"/>
<path d="M390.30 670.98 L393.10 676.02 L387.50 676.02 Z" fill="#7a7a7a" stroke="#4a4a4a" stroke-width="0.5"/>
<path d="M453.40 670.38 L456.20 675.42 L450.60 675.42 Z" fill="#7a7a7a" stroke="#4a4a4a" stroke-width="0.5"/>
<path d="M515.80 652.38 L518.60 657.42 L513.00 657.42 Z" fill="#7a7a7a" stroke="#4a4a4a" stroke-width="0.5"/>
<path d="M324.90 644.50 L327.50 642.20 L330.10 644.50 L327.50 646.80 Z" fill="#111"/>
<path d="M387.70 658.10 L390.30 655.80 L392.90 658.10 L390.30 660.40 Z" fill="#111"/>
<path d="M450.80 637.30 L453.40 635.00 L456.00 637.30 L453.40 639.60 Z" fill="#111"/>
<path d="M513.20 645.80 L515.80 643.50 L518.40 645.80 L515.80 648.10 Z" fill="#111"/>
<path d="M356.5 597.3 H377.7" stroke="#333333" stroke-width="1.1"/>
<path d="M365.60 597.30 L367.70 595.50 L369.80 597.30 L367.70 599.10 Z" fill="#111"/>
<text x="381.5" y="597.8" font-family='"Liberation Serif", serif' font-weight="bold" font-size="11" textLength="35.4" lengthAdjust="spacingAndGlyphs">Normal</text>
<path d="M356.5 608.1 H377.7" stroke="#7a7a7a" stroke-width="1.1"/>
<rect x="366.00" y="606.40" width="3.4" height="3.4" fill="#888"/>
<text x="381.5" y="610.4" font-family='"Liberation Serif", serif' font-weight="bold" font-size="11" textLength="21.6" lengthAdjust="spacingAndGlyphs">PBS</text>
<path d="M356.5 618.1 H377.7" stroke="#7a7a7a" stroke-width="1.1"/>
<path d="M367.70 616.21 L369.80 619.99 L365.60 619.99 Z" fill="#7a7a7a" stroke="#4a4a4a" stroke-width="0.5"/>
<text x="381.5" y="623.2" font-family='"Liberation Serif", serif' font-weight="bold" font-size="11" textLength="30.8" lengthAdjust="spacingAndGlyphs">HAPO</text>
<g transform="translate(289.0,767.5) rotate(-90)" font-family='"Liberation Sans", sans-serif' font-weight="normal"><text x="-0.8" y="0" font-size="12.5" textLength="98.8" lengthAdjust="spacingAndGlyphs">Red blood cells</text><text x="102.2" y="0" font-size="13.5" textLength="5.4" lengthAdjust="spacingAndGlyphs">(</text><text x="108.7" y="0" font-size="12.5" textLength="7.0" lengthAdjust="spacingAndGlyphs">×</text><text x="119.2" y="0" font-size="12.5" textLength="14.6" lengthAdjust="spacingAndGlyphs">10</text><text x="134.1" y="-7.3" font-size="8" textLength="5.2" lengthAdjust="spacingAndGlyphs">9</text><text x="141.3" y="0" font-size="12.5" textLength="6.6" lengthAdjust="spacingAndGlyphs">/</text><text x="148.2" y="0" font-size="12.5" textLength="7.8" lengthAdjust="spacingAndGlyphs">L</text><text x="156.7" y="0" font-size="13.5" textLength="5.6" lengthAdjust="spacingAndGlyphs">)</text></g>
</svg>
</body></html>
